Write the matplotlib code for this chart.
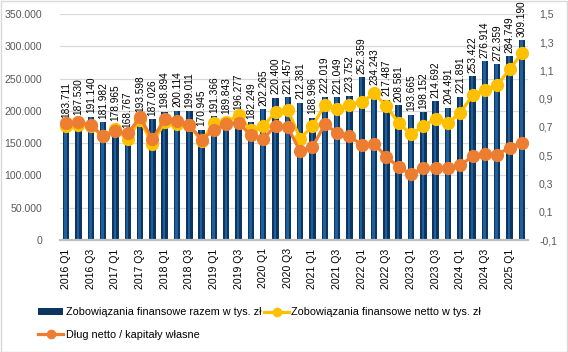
#!/bin/env python3
import matplotlib
matplotlib.use('Agg')
import matplotlib.pyplot as plt
from matplotlib.patches import Rectangle
from matplotlib.ticker import FuncFormatter, MultipleLocator
import numpy as np

quarters = [f'{y} Q{q}' for y in range(2016, 2026) for q in range(1, 5)][:38]

# Zobowiazania finansowe razem (tys. zl)
gross = [183.711, 187.530, 191.140, 181.982, 178.965, 168.767, 193.598, 187.026,
	198.894, 200.114, 199.011, 170.945, 191.366, 189.843, 196.277, 182.249,
	202.265, 220.400, 221.457, 212.381, 188.996, 222.019, 221.049, 223.752,
	252.359, 234.243, 217.487, 208.581, 193.665, 198.152, 214.692, 204.491,
	221.891, 253.422, 276.914, 272.359, 284.749, 309.190]

# Zobowiazania finansowe netto (tys. zl)
net = [176.9, 178.8, 176.9, 160.6, 171.5, 156.0, 186.2, 148.2,
	182.8, 179.3, 177.7, 153.3, 181.3, 182.8, 193.2, 170.0,
	176.2, 197.9, 201.5, 157.1, 176.6, 208.8, 203.6, 209.8,
	213.4, 226.9, 207.2, 181.3, 163.7, 176.2, 188.1, 181.3,
	196.8, 224.3, 232.0, 239.8, 264.2, 289.0]

# Dlug netto / kapitaly wlasne
ratio = [0.725, 0.736, 0.713, 0.635, 0.671, 0.654, 0.768, 0.613,
	0.755, 0.743, 0.713, 0.611, 0.677, 0.720, 0.729, 0.642,
	0.618, 0.706, 0.697, 0.528, 0.559, 0.718, 0.661, 0.635,
	0.574, 0.583, 0.488, 0.417, 0.365, 0.410, 0.410, 0.410,
	0.429, 0.493, 0.512, 0.505, 0.554, 0.587]

FONT = ['Liberation Sans', 'DejaVu Sans']

def thousands(v, _):
	return f'{int(round(v)):,}'.replace(',', '.')

def main():
	plt.rcParams['font.family'] = FONT
	fig = plt.figure(figsize=(5.68, 3.52), dpi=100)
	ax = fig.add_axes([60 / 568, 1 - 240 / 352, 468 / 568, 226 / 352])

	x = np.arange(len(quarters))
	g = np.array(gross) * 1000
	n = np.array(net) * 1000

	bars = ax.bar(x, g, width=0.52, color='#0c365f', zorder=2)
	# lighter stripe to fake the excel cylinder look
	ax.bar(x - 0.04, g, width=0.2, color='#1f5f9c', zorder=2)

	for xi, v in zip(x, gross):
		ax.annotate(f'{v:.3f}', (xi, v * 1000), xytext=(0, 2.5), textcoords='offset points',
			rotation=90, ha='center', va='bottom', fontsize=7.3, color='black', zorder=3,
			annotation_clip=False)

	ln_net, = ax.plot(x, n, color='#FFC000', lw=2.3, marker='o', markersize=8.5, zorder=4)

	ax.set_xlim(-0.5, len(quarters) - 0.5)
	ax.set_ylim(0, 350000)
	ax.yaxis.set_major_locator(MultipleLocator(50000))
	ax.yaxis.set_major_formatter(FuncFormatter(thousands))
	ax.grid(axis='y', color='#d9d9d9', lw=0.9, zorder=0)
	ax.set_axisbelow(True)
	for s in ['top', 'left', 'right']:
		ax.spines[s].set_visible(False)
	ax.spines['bottom'].set_color('#bfbfbf')
	ax.spines['bottom'].set_linewidth(1.6)
	ax.spines['bottom'].set_zorder(5)
	ax.tick_params(axis='y', length=0, labelsize=7.6, labelcolor='#595959', pad=13)
	ax.set_xticks(x[::2])
	ax.set_xticklabels(quarters[::2], rotation=90, fontsize=7.6)
	ax.tick_params(axis='x', length=0, pad=6)

	ax2 = ax.twinx()
	ln_ratio, = ax2.plot(x, ratio, color='#ED7D31', lw=2.3, marker='o', markersize=8.5, zorder=4)
	ax2.set_ylim(-0.1, 1.5)
	ax2.set_yticks(np.arange(-0.1, 1.51, 0.2))
	ax2.yaxis.set_major_formatter(FuncFormatter(lambda v, _: f'{v:.1f}'.replace('.', ',')))
	ax2.tick_params(axis='y', length=0, labelsize=7.6, labelcolor='#595959', pad=8)
	for s in ax2.spines.values():
		s.set_visible(False)

	fig.legend([bars, ln_ratio, ln_net],
		['Zobowiązania finansowe razem w tys. zł', 'Dług netto / kapitały własne',
		 'Zobowiązania finansowe netto w tys. zł'],
		ncol=2, loc='upper left', bbox_to_anchor=(33 / 568, 1 - 302 / 352),
		frameon=False, fontsize=7.8, handlelength=2.3, handletextpad=0.2,
		columnspacing=0.3, labelspacing=1.15, markerscale=0.7, borderpad=0)

	fig.add_artist(Rectangle((0.5 / 568, 0.5 / 352), 1 - 1.5 / 568, 1 - 1.5 / 352,
		transform=fig.transFigure, fill=False, edgecolor='#d9d9d9', lw=1))

	fig.savefig('out.png', dpi=100)

if __name__ == '__main__':
	main()
